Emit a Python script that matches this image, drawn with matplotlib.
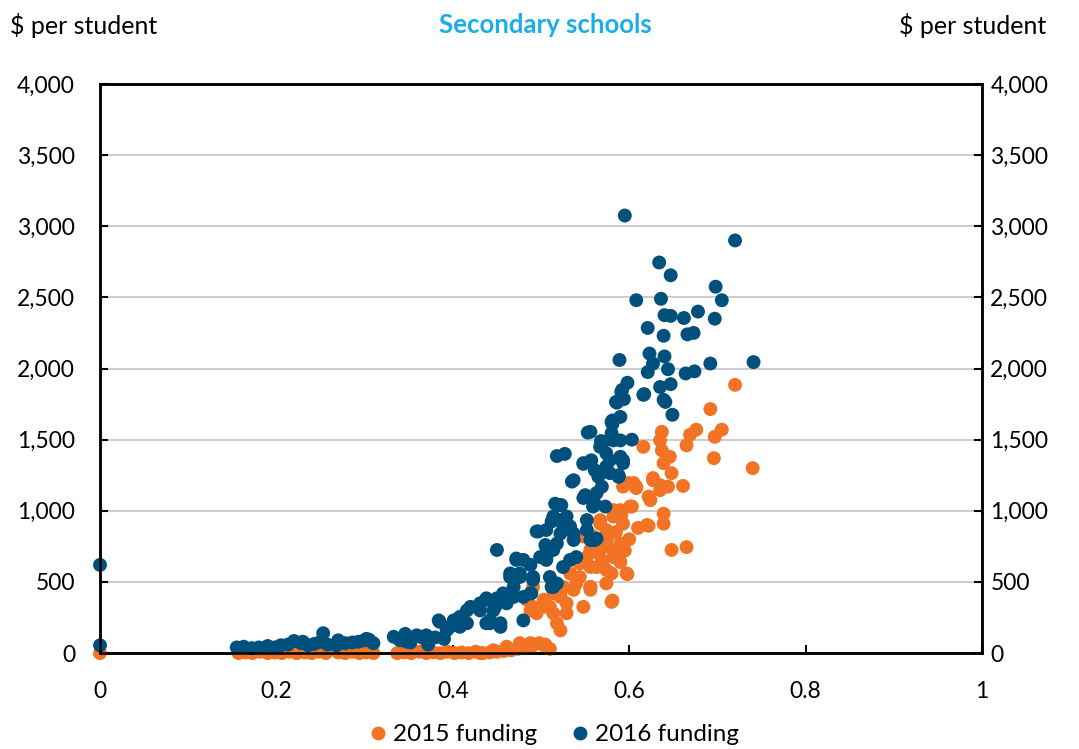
import matplotlib
matplotlib.use("Agg")
import matplotlib.pyplot as plt
from matplotlib.lines import Line2D

plt.rcParams["font.family"] = ["Lato", "DejaVu Sans"]

ORANGE = "#F37325"
BLUE = "#00507D"
TITLE_BLUE = "#1AADEB"

# 2015 funding (x, $ per student)
x_2015 = [
    0.0, 0.157, 0.165, 0.173, 0.182, 0.190, 0.198, 0.206, 0.215, 0.223, 0.232,
    0.240, 0.248, 0.256, 0.270, 0.278, 0.286, 0.294, 0.302, 0.310,
    0.337, 0.345, 0.353, 0.362, 0.370, 0.378, 0.386, 0.394, 0.402, 0.410,
    0.418, 0.426, 0.434, 0.442, 0.450, 0.458, 0.466, 0.474, 0.482, 0.490,
    0.498, 0.505, 0.510, 0.431, 0.446, 0.461, 0.476, 0.488, 0.503,
    0.720, 0.692, 0.676, 0.669, 0.665, 0.705, 0.697, 0.696, 0.740,
    0.637, 0.635, 0.637, 0.646, 0.639, 0.648, 0.644, 0.635, 0.627, 0.616,
    0.661, 0.605, 0.593, 0.608, 0.622, 0.639, 0.639, 0.622, 0.603, 0.591,
    0.582, 0.648, 0.665, 0.598, 0.581, 0.556, 0.580,
    0.548, 0.556, 0.567, 0.574, 0.582, 0.586, 0.556, 0.544, 0.537, 0.556,
    0.574, 0.522, 0.510, 0.529, 0.548, 0.574,
    0.491, 0.506, 0.518, 0.522, 0.484,
    0.599, 0.608, 0.627, 0.624, 0.635, 0.601, 0.590, 0.582, 0.567, 0.593,
    0.559, 0.590, 0.571, 0.582, 0.552, 0.544, 0.533, 0.563, 0.597, 0.540,
    0.525, 0.556, 0.514, 0.503, 0.491, 0.529, 0.514, 0.495, 0.488, 0.522,
    0.620, 0.565, 0.575, 0.585, 0.570, 0.580, 0.595, 0.600, 0.610, 0.590,
]
y_2015 = [
    0, 0, 5, 0, 10, 0, 5, 0, 10, 0, 5,
    0, 10, 0, 5, 0, 10, 0, 5, 0,
    0, 5, 0, 10, 0, 5, 0, 10, 0, 5,
    0, 10, 0, 5, 10, 15, 20, 30, 40, 50,
    70, 60, 30, 0, 20, 45, 70, 70, 55,
    1885, 1715, 1570, 1535, 1460, 1570, 1520, 1370, 1300,
    1555, 1495, 1425, 1380, 1335, 1265, 1170, 1180, 1230, 1450,
    1175, 1195, 1170, 1160, 1100, 980, 910, 895, 1030, 970,
    1005, 725, 745, 555, 370, 465, 360,
    820, 725, 935, 865, 725, 960, 605, 535, 445, 445,
    490, 395, 325, 280, 325, 585,
    465, 325, 210, 420, 375,
    1195, 1170, 1215, 1075, 1145, 1030, 1005, 960, 910, 910,
    820, 770, 745, 675, 675, 630, 560, 605, 560, 490,
    465, 465, 420, 375, 325, 350, 280, 280, 300, 160,
    900, 700, 800, 850, 650, 560, 720, 800, 880, 640,
]

# 2016 funding (x, $ per student)
x_2016 = [
    0.0, 0.0,
    0.155, 0.163, 0.172, 0.180, 0.190, 0.198, 0.205, 0.213, 0.220, 0.228,
    0.236, 0.243, 0.250, 0.258, 0.270, 0.278, 0.286, 0.293, 0.300, 0.310,
    0.305, 0.253, 0.230, 0.268, 0.302,
    0.333, 0.340, 0.346, 0.352, 0.359, 0.367, 0.372, 0.380, 0.390, 0.348,
    0.384, 0.397, 0.408, 0.420, 0.431, 0.438, 0.442, 0.416,
    0.595, 0.720, 0.634, 0.647, 0.698, 0.705, 0.608, 0.636, 0.640, 0.647,
    0.662, 0.678, 0.697, 0.621, 0.639, 0.666, 0.673, 0.589, 0.623, 0.640,
    0.627, 0.644, 0.621, 0.664, 0.674, 0.692, 0.741, 0.598, 0.592, 0.617,
    0.635, 0.647, 0.586, 0.594, 0.641, 0.649, 0.590, 0.581, 0.553, 0.580,
    0.568, 0.590, 0.603, 0.591, 0.585, 0.581, 0.569, 0.518, 0.527, 0.548,
    0.557, 0.593, 0.565, 0.537, 0.578, 0.588, 0.550, 0.569, 0.616, 0.639,
    0.580, 0.571, 0.582, 0.556, 0.578, 0.561, 0.574, 0.588, 0.563, 0.559,
    0.573, 0.561,
    0.535, 0.550, 0.561, 0.522, 0.514, 0.525, 0.533, 0.506, 0.522, 0.537,
    0.514, 0.533, 0.506, 0.525, 0.540, 0.510, 0.518, 0.552, 0.556, 0.563,
    0.516, 0.497, 0.450, 0.472, 0.505, 0.512, 0.506, 0.488, 0.476, 0.465,
    0.469, 0.491, 0.512, 0.480, 0.489, 0.438, 0.450, 0.461, 0.431, 0.446,
    0.454, 0.438, 0.480,
    0.548, 0.556, 0.567, 0.574, 0.590, 0.593, 0.588, 0.548, 0.559, 0.523,
    0.520, 0.529, 0.495, 0.525, 0.537, 0.552, 0.559, 0.518, 0.506, 0.499,
    0.480, 0.472, 0.465, 0.476, 0.491, 0.514, 0.488, 0.457, 0.469, 0.448,
    0.427, 0.416, 0.401, 0.385, 0.393, 0.370, 0.363, 0.408, 0.442, 0.454,
]
y_2016 = [
    620, 55,
    40, 45, 35, 40, 50, 40, 55, 60, 85, 70,
    55, 65, 80, 60, 90, 70, 75, 80, 90, 70,
    95, 140, 80, 55, 100,
    115, 90, 135, 75, 125, 105, 60, 110, 100, 80,
    230, 185, 255, 325, 350, 385, 210, 210,
    3075, 2900, 2745, 2655, 2575, 2480, 2480, 2490, 2375, 2370,
    2355, 2400, 2350, 2285, 2230, 2240, 2250, 2060, 2105, 2085,
    2035, 1995, 1975, 1965, 1980, 2035, 2045, 1900, 1850, 1820,
    1870, 1890, 1760, 1785, 1765, 1675, 1660, 1610, 1550, 1545,
    1490, 1495, 1500, 1835, 1765, 1635, 1475, 1385, 1400, 1330,
    1355, 1355, 1240, 1215, 1265, 1240, 1110, 1170, 1815, 1780,
    1625, 1485, 1495, 1555, 1355, 1285, 1310, 1250, 1125, 1030,
    1030, 795,
    1205, 1100, 1050, 1040, 960, 935, 890, 865, 840, 840,
    725, 655, 655, 605, 675, 535, 490, 865, 795, 805,
    1050, 855, 725, 655, 760, 925, 675, 620, 560, 535,
    465, 535, 465, 395, 420, 375, 385, 350, 300, 300,
    210, 210, 230,
    1335, 1345, 1450, 1405, 1380, 1335, 1240, 1090, 1075, 1040,
    935, 960, 855, 865, 795, 935, 795, 770, 745, 675,
    655, 665, 560, 535, 515, 465, 420, 420, 395, 325,
    325, 300, 230, 220, 160, 125, 115, 185, 230, 185,
]

y_ticks = [0, 500, 1000, 1500, 2000, 2500, 3000, 3500, 4000]
y_tick_labels = ["0", "500", "1,000", "1,500", "2,000", "2,500", "3,000", "3,500", "4,000"]
x_ticks = [0, 0.2, 0.4, 0.6, 0.8, 1]
x_tick_labels = ["0", "0.2", "0.4", "0.6", "0.8", "1"]

fig = plt.figure(figsize=(10.79, 7.49), dpi=100)
ax = fig.add_axes([0.0927, 0.128, 0.8174, 0.76])

ax.scatter(x_2015, y_2015, s=100, color=ORANGE, edgecolors="none", zorder=3, clip_on=False)
ax.scatter(x_2016, y_2016, s=100, color=BLUE, edgecolors="none", zorder=4, clip_on=False)

ax.set_xlim(0, 1)
ax.set_ylim(0, 4000)
ax.set_yticks(y_ticks)
ax.set_yticklabels(y_tick_labels)
ax.set_xticks(x_ticks)
ax.set_xticklabels(x_tick_labels)
ax.grid(axis="y", color="#c8c8c8", linewidth=1.3, zorder=0)
ax.set_axisbelow(True)
ax.tick_params(direction="in", length=6, width=1.5, labelsize=16.5, colors="black")
ax.tick_params(axis="y", pad=18)
ax.tick_params(axis="x", pad=20)
for sp in ax.spines.values():
    sp.set_linewidth(1.8)
    sp.set_color("black")

ax2 = ax.twinx()
ax2.set_ylim(0, 4000)
ax2.set_yticks(y_ticks)
ax2.set_yticklabels(y_tick_labels)
ax2.tick_params(direction="in", length=6, width=1.5, labelsize=16.5, pad=6)
for sp in ax2.spines.values():
    sp.set_linewidth(1.8)

fig.text(0.009, 0.966, "$ per student", fontsize=18, ha="left", va="center")
fig.text(0.970, 0.966, "$ per student", fontsize=18, ha="right", va="center")
fig.text(0.505, 0.966, "Secondary schools", fontsize=18.5, fontweight="bold",
         color=TITLE_BLUE, ha="center", va="center")

handles = [
    Line2D([], [], marker="o", linestyle="none", color=ORANGE, markersize=9, label="2015 funding"),
    Line2D([], [], marker="o", linestyle="none", color=BLUE, markersize=9, label="2016 funding"),
]
fig.legend(handles=handles, loc="center", bbox_to_anchor=(0.512, 0.019), ncol=2,
           frameon=False, fontsize=17.5, handletextpad=0.1, columnspacing=1.3,
           handlelength=1.0)

fig.savefig("out.png", dpi=100)
